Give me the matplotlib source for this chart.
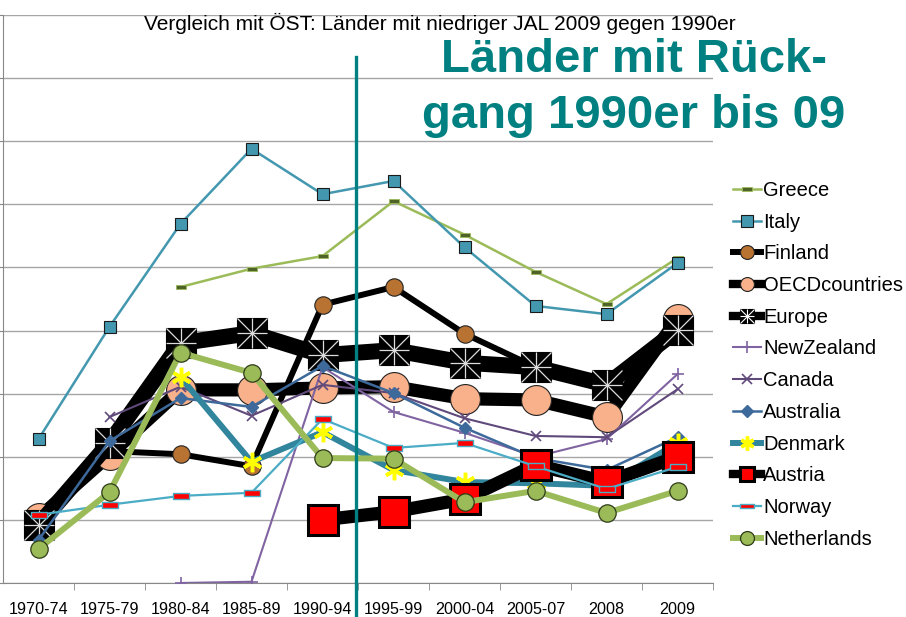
import numpy as np
import matplotlib

matplotlib.use("Agg")
import matplotlib.pyplot as plt
from matplotlib.lines import Line2D
from matplotlib.path import Path

nan = np.nan

periods = ["1970-74", "1975-79", "1980-84", "1985-89", "1990-94", "1995-99", "2000-04", "2005-07", "2008", "2009"]

greece = [nan, nan, 4.69, 4.98, 5.18, 6.05, 5.52, 4.93, 4.42, 5.15]
italy = [2.28, 4.06, 5.69, 6.88, 6.16, 6.37, 5.32, 4.39, 4.26, 5.07]
finland = [nan, 2.09, 2.04, 1.85, 4.41, 4.69, 3.95, 3.42, 3.11, 4.01]
oecd = [1.03, 2.03, 3.06, 3.06, 3.09, 3.11, 2.92, 2.90, 2.63, 4.18]
europe = [0.92, 2.22, 3.80, 3.96, 3.61, 3.69, 3.49, 3.42, 3.14, 4.01]
new_zealand = [nan, nan, 0.0, 0.02, 3.42, 2.71, 2.38, 2.00, 2.28, 3.31]
canada = [nan, 2.63, 3.11, 2.65, 3.14, 3.01, 2.61, 2.33, 2.31, 3.07]
australia = [0.68, 2.25, 2.93, 2.79, 3.44, 3.01, 2.46, 1.98, 1.79, 2.31]
denmark = [nan, nan, 3.26, 1.92, 2.39, 1.79, 1.60, 1.58, 1.54, 2.22]
austria = [nan, nan, nan, nan, 1.00, 1.13, 1.33, 1.87, 1.60, 2.00]
norway = [1.08, 1.24, 1.38, 1.43, 2.60, 2.14, 2.22, 1.85, 1.49, 1.84]
netherlands = [0.54, 1.44, 3.65, 3.33, 1.98, 1.97, 1.28, 1.46, 1.11, 1.46]

title = "Vergleich mit ÖST: Länder mit niedriger JAL 2009 gegen 1990er"
headline = ["Länder mit Rück-", "gang 1990er bis 09"]

# flat rectangle marker (Excel "dash")
dash = Path([(-1, -0.35), (1, -0.35), (1, 0.35), (-1, 0.35), (-1, -0.35)],
            [Path.MOVETO, Path.LINETO, Path.LINETO, Path.LINETO, Path.CLOSEPOLY])
asterisk = (6, 2, 0)

series = [
    ("Greece", greece, dict(color="#9BBB59", lw=1.8, marker=dash, ms=7, mfc="#4F6228", mec="#9BBB59", mew=0.6)),
    ("Italy", italy, dict(color="#4398B0", lw=1.8, marker="s", ms=8, mfc="#4398B0", mec="#1A1A1A", mew=0.8)),
    ("Finland", finland, dict(color="black", lw=4.3, marker="o", ms=12.5, mfc="#B87333", mec="#222222", mew=0.8)),
    ("OECDcountries", oecd, dict(color="black", lw=9.5, marker="o", ms=21.5, mfc="#F8B18A", mec="#222222", mew=0.8)),
    ("Europe", europe, dict(color="black", lw=11.5, marker="s", ms=22, mfc="black", mec="black", mew=0.8)),
    ("NewZealand", new_zealand, dict(color="#8064A2", lw=1.5, marker="+", ms=9, mew=1.2)),
    ("Canada", canada, dict(color="#604A7B", lw=1.5, marker="x", ms=7, mew=1.2)),
    ("Australia", australia, dict(color="#3D6A9B", lw=1.8, marker="D", ms=6, mfc="#3D6A9B", mec="#3D6A9B")),
    ("Denmark", denmark, dict(color="#31859C", lw=4.3, marker=asterisk, ms=14, mec="#FFFF00", mew=2.5)),
    ("Austria", austria, dict(color="black", lw=9.5, marker="s", ms=21.5, mfc="#FF0000", mec="black", mew=2.2)),
    ("Norway", norway, dict(color="#4BACC6", lw=1.6, marker=dash, ms=12, mfc="#FF0000", mec="#4BACC6", mew=1.0)),
    ("Netherlands", netherlands, dict(color="#9BBB59", lw=4.3, marker="o", ms=12.5, mfc="#9BBB59", mec="#2E3B18", mew=0.9)),
]

fig = plt.figure(figsize=(9.06, 6.17), dpi=100)
ax = fig.add_axes([3 / 906, 34 / 617, 710 / 906, 568 / 617])

x = np.arange(len(periods))
handles = []
for z, (name, vals, style) in enumerate(series):
    ax.plot(x, np.array(vals, dtype=float), label=name, zorder=3 + z, **style)
    leg_style = dict(style)
    leg_style["lw"] = min(style["lw"], 6)
    leg_style["ms"] = min(style["ms"], 10)
    h = Line2D([], [], **leg_style)
    if name == "Europe":
        cross = Line2D([], [], ls="none", marker="+", ms=10, color="white", mew=0.8)
        diag = Line2D([], [], ls="none", marker="x", ms=10, color="white", mew=0.8)
        h = (h, cross, diag)
    handles.append(h)
    if name == "Europe":
        ax.plot(x, europe, ls="none", marker="+", ms=21, color="#DDDDDD", mew=0.9, zorder=3 + z)
        ax.plot(x, europe, ls="none", marker="x", ms=21, color="#DDDDDD", mew=0.9, zorder=3 + z)

ax.set_xlim(-0.5, len(periods) - 0.5)
ax.set_ylim(0, 9)
ax.set_yticks(np.arange(0, 10))
ax.set_yticklabels([])
ax.tick_params(axis="y", length=4, color="#888888", direction="out")
ax.set_xticks(x)
ax.set_xticklabels(periods, fontsize=11.6, family="Liberation Sans")
ax.set_xticks(np.arange(0.5, len(periods)), minor=True)
ax.tick_params(axis="x", which="major", length=0, pad=14)
ax.tick_params(axis="x", which="minor", length=5, color="#888888")
ax.grid(axis="y", color="#A6A6A6", lw=1)
ax.set_axisbelow(True)
for side in ("top", "right"):
    ax.spines[side].set_visible(False)
for side in ("left", "bottom"):
    ax.spines[side].set_color("#888888")

# divider between 1990-94 and 1995-99
ax.plot([4.47, 4.47], [0.926, -0.06], color="#008080", lw=2.4, zorder=30,
        transform=ax.get_xaxis_transform(), clip_on=False)

fig.text(440 / 906, 1 - 30 / 617, title, ha="center", va="baseline", fontsize=15,
         family="Liberation Sans")
fig.text(634 / 906, 1 - 72 / 617, headline[0], ha="center", va="baseline", fontsize=34,
         fontweight="bold", color="#008080", family="Liberation Sans", zorder=40)
fig.text(634 / 906, 1 - 128 / 617, headline[1], ha="center", va="baseline", fontsize=34,
         fontweight="bold", color="#008080", family="Liberation Sans", zorder=40)

fig.legend(handles, [s[0] for s in series], loc="upper left",
           bbox_to_anchor=(725 / 906, 1 - 173 / 617), frameon=False,
           prop=dict(family="Liberation Sans", size=14.5), handlelength=1.4,
           handletextpad=0.1, labelspacing=0.63, borderaxespad=0)

fig.savefig("out.png", dpi=100)
